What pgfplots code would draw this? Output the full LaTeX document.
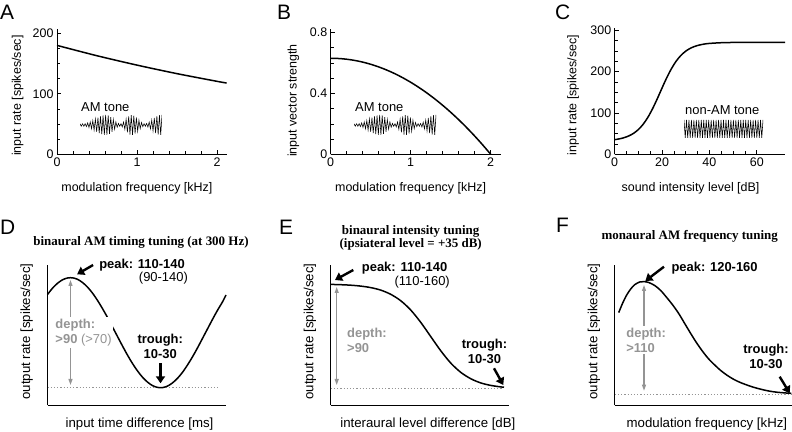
\documentclass[border=0pt]{standalone}
\usepackage{pgfplots}
\pgfplotsset{compat=1.18}
\usepackage{pgfplotstable}
\usepackage{fontspec}
\setmainfont{Liberation Sans}
\newfontfamily\titlefont{Liberation Serif}
\usetikzlibrary{arrows.meta}
\definecolor{dgray}{gray}{0.58}

\pgfplotstableread{
k am pure
0 0.12 1
1 -0.12 -1
2 0.12 1
3 -0.121 -1
4 0.134 1
5 -0.16 -1
6 0.197 1
7 -0.247 -1
8 0.306 1
9 -0.372 -1
10 0.444 1
11 -0.52 -1
12 0.597 1
13 -0.673 -1
14 0.745 1
15 -0.812 -1
16 0.871 1
17 -0.921 -1
18 0.959 1
19 -0.985 -1
20 0.998 1
21 -0.995 -1
22 0.958 1
23 -0.888 -1
24 0.791 1
25 -0.676 -1
26 0.55 1
27 -0.425 -1
28 0.312 1
29 -0.219 -1
30 0.153 1
31 -0.123 -1
32 0.131 1
33 -0.19 -1
34 0.296 1
35 -0.432 -1
36 0.585 1
37 -0.733 -1
38 0.862 1
39 -0.954 -1
40 0.997 1
41 -0.99 -1
42 0.943 1
43 -0.859 -1
44 0.748 1
45 -0.619 -1
46 0.484 1
47 -0.358 -1
48 0.249 1
49 -0.169 -1
50 0.126 1
51 -0.123 -1
52 0.15 1
53 -0.205 -1
54 0.283 1
55 -0.379 -1
56 0.487 1
57 -0.601 -1
58 0.711 1
59 -0.812 -1
60 0.895 1
61 -0.957 -1
62 0.992 1
63 -1 -1
64 1 1
}\tones

\pgfplotsset{
  panel/.style={scale only axis, anchor=south west, axis lines=left,
    axis line style={-, line width=0.7bp}, clip=false},
  toprow/.style={panel, tick align=inside, major tick length=4bp, minor tick length=3bp,
    tick style={black, line width=0.6bp},
    tick label style={font=\fontsize{12.5}{14}\selectfont},
    label style={font=\fontsize{12.5}{14}\selectfont},
    /pgf/number format/assume math mode=true},
  botrow/.style={panel, axis line style={-, line width=0.9bp}, xtick=\empty, ytick=\empty,
    xmin=0, ymin=0, ymax=140, height=140bp,
    label style={font=\fontsize{13.3}{15}\selectfont}},
  inset/.style={scale only axis, anchor=south west, hide axis, xmin=0, xmax=64, ymin=-1, ymax=1},
  curve/.style={black, line width=1.5bp, smooth},
}
\tikzset{
  bigarrow/.style={line width=2.4bp, -{Triangle[length=7bp,width=9bp]}},
  grayarrow/.style={dgray, line width=1.1bp, {Triangle[length=6bp,width=4bp]}-{Triangle[length=6bp,width=4bp]}},
  ann/.style={font=\fontsize{13}{15}\selectfont\bfseries, inner sep=0pt},
}

\begin{document}
\begin{tikzpicture}
\useasboundingbox (0,0) rectangle (792bp,432bp);

% ---------- Panel A ----------
\begin{axis}[toprow, at={(57bp,277.7bp)}, width=170bp, height=125bp,
  xmin=0, xmax=2.125, ymin=0, ymax=206.6,
  xtick={0,1,2}, ytick={0,100,200}, minor x tick num=4, minor y tick num=3,
  xlabel={modulation frequency [kHz]}, ylabel={input rate [spikes/sec]},
  xlabel style={at={(axis description cs:0.47,-0.27)}, anchor=center},
  ylabel style={at={(axis description cs:-0.231,0.47)}, anchor=center}]
\addplot[curve] coordinates {(0,180) (0.5,162.9) (1,147.4) (1.5,133.3) (2,120.6) (2.12,117.8)};
\end{axis}
\begin{axis}[inset, at={(80bp,297bp)}, width=82bp, height=20bp]
\addplot[black, line width=0.55bp] table[x=k, y=am] {\tones};
\end{axis}
\node[anchor=west, font=\fontsize{13}{15}\selectfont, inner sep=0pt] at (81bp,325bp) {AM tone};

% ---------- Panel B ----------
\begin{axis}[toprow, at={(330.7bp,277.7bp)}, width=170bp, height=125bp,
  xmin=0, xmax=2.125, ymin=0, ymax=0.82,
  xtick={0,1,2}, ytick={0,0.4,0.8}, minor x tick num=4, minor y tick num=3,
  xlabel={modulation frequency [kHz]}, ylabel={input vector strength},
  xlabel style={at={(axis description cs:0.47,-0.27)}, anchor=center},
  ylabel style={at={(axis description cs:-0.22,0.43)}, anchor=center}]
\addplot[curve] coordinates {(0,0.630) (0.1,0.6284) (0.2,0.6237) (0.3,0.6158) (0.4,0.6048)
  (0.5,0.5906) (0.6,0.5733) (0.7,0.5528) (0.8,0.5292) (0.9,0.5024) (1.0,0.4725)
  (1.1,0.4394) (1.2,0.4032) (1.3,0.3638) (1.4,0.3213) (1.5,0.2756) (1.6,0.2268)
  (1.7,0.1748) (1.8,0.1197) (1.9,0.0614) (2.0,0)};
\end{axis}
\begin{axis}[inset, at={(354bp,297bp)}, width=82bp, height=20bp]
\addplot[black, line width=0.55bp] table[x=k, y=am] {\tones};
\end{axis}
\node[anchor=west, font=\fontsize{13}{15}\selectfont, inner sep=0pt] at (355bp,325bp) {AM tone};

% ---------- Panel C ----------
\begin{axis}[toprow, at={(614.7bp,277.7bp)}, width=170bp, height=126bp,
  xmin=0, xmax=71.8, ymin=0, ymax=305,
  xtick={0,20,40,60}, ytick={0,100,200,300}, minor x tick num=3, minor y tick num=3,
  xlabel={sound intensity level [dB]}, ylabel={input rate [spikes/sec]},
  xlabel style={at={(axis description cs:0.446,-0.267)}, anchor=center},
  ylabel style={at={(axis description cs:-0.245,0.47)}, anchor=center}]
\addplot[curve] coordinates {(0,35.5) (2,37.4) (4,40.3) (6,44.6) (8,50.9) (10,59.9)
  (12,72.6) (14,89.4) (16,110.4) (18,134.7) (20,160.6) (22,185.6) (24,207.7)
  (26,225.8) (28,239.6) (30,249.7) (32,256.8) (34,261.6) (36,264.8) (38,267.0)
  (40,268.4) (45,270.1) (50,270.7) (60,271) (72,271)};
\end{axis}
\begin{axis}[inset, at={(684bp,294bp)}, width=79bp, height=18bp]
\addplot[black, line width=0.55bp] table[x=k, y=pure] {\tones};
\end{axis}
\node[anchor=west, font=\fontsize{13}{15}\selectfont, inner sep=0pt] at (685bp,322bp) {non-AM tone};

% ---------- Panel D ----------
\begin{axis}[botrow, at={(47.5bp,27bp)}, width=178bp, xmax=178,
  xlabel={input time difference [ms]}, ylabel={output rate [spikes/sec]},
  xlabel style={at={(axis description cs:0.517,-0.134)}, anchor=center},
  ylabel style={at={(axis description cs:-0.117,0.525)}, anchor=center}]
\addplot[dgray, line width=1bp, dash pattern=on 1.2bp off 2bp] coordinates {(0,17.3) (172,17.3)};
\addplot[curve] coordinates {(0,110.5) (5,116.8) (10,121.7) (15,125.2) (20,127.0) (25,127.2)
  (30,125.7) (35,122.5) (40,117.9) (45,111.9) (50,104.6) (55,96.4) (60,87.5) (65,78.0)
  (70,68.5) (75,59.0) (80,49.9) (85,41.5) (90,34.1) (95,27.8) (100,22.9) (105,19.4)
  (110,17.6) (115,17.4) (120,18.9) (125,22.1) (130,26.7) (135,32.7) (140,40.0)
  (145,48.2) (150,57.1) (155,66.6) (160,76.1) (165,85.6) (170,94.7) (175,103.1) (178.5,110)};
\draw[grayarrow] (23,125) -- (23,20);
\node[ann, anchor=west, align=left, fill=white, inner sep=1.5bp, text=dgray] at (6.3,72.5)
  {depth:\\>90 {\mdseries(>70)}};
\draw[bigarrow] (45.6,140) -- (29.6,130.7);
\node[ann, anchor=west] at (51.6,140) {peak: 110-140};
\node[ann, anchor=east, font=\fontsize{13}{15}\selectfont\mdseries] at (140.6,127.3) {(90-140)};
\node[ann, align=center] at (112.8,59) {trough:\\10-30};
\draw[bigarrow] (113,41.7) -- (113,21.7);
\end{axis}

% ---------- Panel E ----------
\begin{axis}[botrow, at={(330.7bp,27bp)}, width=178.3bp, xmax=178.3,
  xlabel={interaural level difference [dB]}, ylabel={output rate [spikes/sec]},
  xlabel style={at={(axis description cs:0.545,-0.134)}, anchor=center},
  ylabel style={at={(axis description cs:-0.117,0.525)}, anchor=center}]
\addplot[dgray, line width=1bp, dash pattern=on 1.2bp off 2bp] coordinates {(0,16) (172,16)};
\addplot[curve] coordinates {(0,120.6) (10,120.3) (20,119.8) (30,118.9) (40,117.4) (50,114.9)
  (60,110.7) (70,104.3) (80,95.0) (90,82.7) (100,68.5) (110,54.3) (120,42.0) (130,32.7)
  (140,26.3) (150,22.1) (160,19.6) (170,18.1) (173.3,17.8)};
\draw[grayarrow] (6,118) -- (6,20);
\node[ann, anchor=west, align=left, text=dgray] at (16.3,65) {depth:\\>90};
\draw[bigarrow] (22.6,135) -- (4.3,125);
\node[ann, anchor=west] at (31,136.7) {peak: 110-140};
\node[ann, anchor=east, font=\fontsize{13}{15}\selectfont\mdseries] at (119.3,123.3) {(110-160)};
\node[ann, align=center] at (153.8,54) {trough:\\10-30};
\draw[bigarrow] (163.3,36.7) -- (172.6,20);
\end{axis}

% ---------- Panel F ----------
\begin{axis}[botrow, at={(614.7bp,27bp)}, width=177.3bp, xmax=177.3,
  xlabel={modulation frequency [kHz]}, ylabel={output rate [spikes/sec]},
  xlabel style={at={(axis description cs:0.52,-0.134)}, anchor=center},
  ylabel style={at={(axis description cs:-0.117,0.525)}, anchor=center}]
\addplot[dgray, line width=1bp, dash pattern=on 1.2bp off 2bp] coordinates {(0,10.7) (177,10.7)};
\addplot[curve] coordinates {(4,92.4) (8,102) (12,110) (16,116) (20,120.3) (25,123) (29.3,123.4)
  (34,122.5) (40,119.5) (46,114.5) (52,107.5) (58,100) (64,91.5) (70,81.5) (76,71.5)
  (82,62) (88,53.5) (94,46) (100,40) (106,34.5) (112,30) (118,26.2) (124,23.2)
  (130,20.8) (138,18) (146,15.8) (154,14) (162,12.8) (170,12.1) (176.6,11.7)};
\draw[grayarrow] (29.3,120) -- (29.3,14.3);
\node[ann, anchor=west, align=left, fill=white, inner sep=1.5bp, text=dgray] at (10,65) {depth:\\>110};
\draw[bigarrow] (49.3,138.3) -- (30.6,124);
\node[ann, anchor=west] at (56.6,136.7) {peak: 120-160};
\node[ann, align=center] at (151.3,49) {trough:\\10-30};
\draw[bigarrow] (165,28.3) -- (175,11.7);
\end{axis}

% ---------- Panel letters and titles ----------
\node[anchor=north west, inner sep=0pt, font=\fontsize{21}{24}\selectfont] at (0bp,427bp) {A};
\node[anchor=north west, inner sep=0pt, font=\fontsize{21}{24}\selectfont] at (277bp,427bp) {B};
\node[anchor=north west, inner sep=0pt, font=\fontsize{21}{24}\selectfont] at (555bp,427bp) {C};
\node[anchor=north west, inner sep=0pt, font=\fontsize{21}{24}\selectfont] at (0bp,212bp) {D};
\node[anchor=north west, inner sep=0pt, font=\fontsize{21}{24}\selectfont] at (279bp,212bp) {E};
\node[anchor=north west, inner sep=0pt, font=\fontsize{21}{24}\selectfont] at (556bp,214bp) {F};
\node[font=\titlefont\bfseries\fontsize{13}{15}\selectfont] at (141bp,189.3bp) {binaural AM timing tuning (at 300 Hz)};
\node[font=\titlefont\bfseries\fontsize{13}{13.5}\selectfont, align=center] at (410.7bp,194bp)
  {binaural intensity tuning\\(ipsiateral level = +35 dB)};
\node[font=\titlefont\bfseries\fontsize{13}{15}\selectfont] at (689.7bp,196bp) {monaural AM frequency tuning};
\end{tikzpicture}
\end{document}
